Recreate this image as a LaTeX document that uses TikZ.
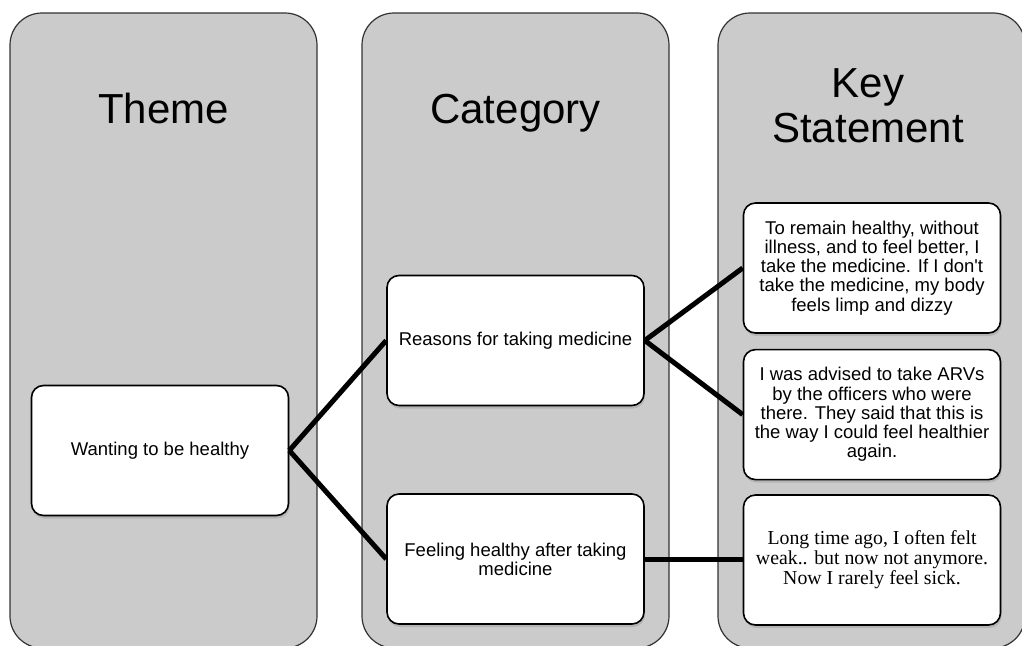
\documentclass[tikz,border=0pt]{standalone}
\usepackage{fontspec}
\setmainfont{Liberation Sans}[Ligatures=TeXOff]
\newfontfamily\quotefont{Liberation Serif}
\usetikzlibrary{positioning,shadows}
\definecolor{colgray}{RGB}{203,203,203}
\definecolor{coledge}{RGB}{50,50,50}
\tikzset{column/.style={draw=coledge,line width=1.2pt,fill=colgray,rounded corners=32pt,minimum width=307pt,minimum height=635pt,inner sep=0pt,outer sep=0pt},
         heading/.style={font=\fontsize{42}{45}\selectfont,align=center},
         card/.style={draw=black,line width=1.6pt,fill=white,rounded corners=12pt,minimum width=257pt,minimum height=130pt,inner sep=0pt,align=center,font=\fontsize{18.5}{19.2}\selectfont,drop shadow={shadow xshift=1pt,shadow yshift=-3pt,opacity=0.3}},
         connector/.style={draw=black,line width=5pt}
}
\begin{document}
\begin{tikzpicture}[x=1pt,y=-1pt]
\clip (0,0) rectangle (1022,645);

\node[column] (theme) at (163.5,330.5) {};
\node[column] (category) at (515.5,330.5) {};
\node[column] (key) at (871.5,330.5) {};
\node[heading,anchor=base] (themehead) at (163.5,123) {Theme};
\node[heading,anchor=base] (cathead) at (515.5,123) {Category};
\node[heading] (keyhead) at (868,106) {Key\\Statement};

\node[card] (healthy) at (160,450.5) {Wanting to be healthy};
\node[card] (reasons) at (515.5,340.5) {Reasons for taking medicine};
\node[card] (feeling) at (515.5,559) {Feeling healthy after taking\\medicine};
\node[card] (remain) at (872,268) {To remain healthy, without\\illness, and to feel better, I\\take the medicine. If I don't\\take the medicine, my body\\feels limp and dizzy};
\node[card,below=15pt of remain] (advised) {I was advised to take ARVs\\by the officers who were\\there. They said that this is\\the way I could feel healthier\\again.};
\node[card,font=\quotefont\fontsize{19.8}{20}\selectfont] (weak) at (872,560) {Long time ago, I often felt\\weak.. but now not anymore.\\Now I rarely feel sick.};

\draw[connector] (healthy.east)--(reasons.west);
\draw[connector] (healthy.east)--(feeling.west);
\draw[connector] (reasons.east)--(remain.west);
\draw[connector] (reasons.east)--(advised.west);
\draw[connector] (feeling.east)--(feeling.east-|weak.west);

\end{tikzpicture}
\end{document}
